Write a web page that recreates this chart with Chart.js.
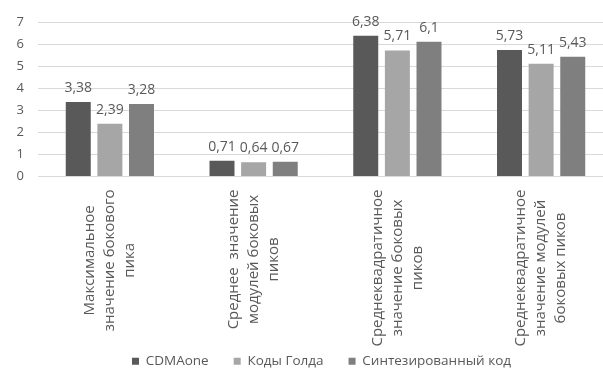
<!DOCTYPE html>
<html>
<head>
<meta charset="utf-8">
<script src="https://cdn.jsdelivr.net/npm/chart.js@4.4.0/dist/chart.umd.min.js"></script>
<style>
  html, body { margin: 0; padding: 0; background: #fff; overflow: hidden; }
  /* the original picture is cropped a little on the right */
  #wrap { width: 603px; height: 374px; overflow: hidden; }
</style>
</head>
<body>
<div id="wrap"><canvas id="myChart" width="613" height="374"></canvas></div>
<script>
// Chart data
const categories = [
    ['Максимальное', 'значение бокового', 'пика'],
    ['Среднее  значение', 'модулей боковых', 'пиков'],
    ['Среднеквадратичное', 'значение боковых', 'пиков'],
    ['Среднеквадратичное', 'значение модулей', 'боковых пиков']
];
const seriesNames = ['CDMAone', 'Коды Голда', 'Синтезированный код'];
const cdmaOne = [3.38, 0.71, 6.38, 5.73];
const goldCodes = [2.39, 0.64, 5.71, 5.11];
const synthCode = [3.28, 0.67, 6.1, 5.43];
const yTicks = [0, 1, 2, 3, 4, 5, 6, 7];

const colors = ['#595959', '#a6a6a6', '#7f7f7f'];
const textColor = '#595959';
const fontFamily = '"Open Sans", sans-serif';

// Value labels above bars, comma as decimal separator
const valueLabels = {
    id: 'valueLabels',
    afterDatasetsDraw(chart) {
        const ctx = chart.ctx;
        ctx.save();
        ctx.font = '14px ' + fontFamily;
        ctx.fillStyle = textColor;
        ctx.textAlign = 'center';
        ctx.textBaseline = 'alphabetic';
        chart.data.datasets.forEach((ds, i) => {
            const meta = chart.getDatasetMeta(i);
            meta.data.forEach((bar, j) => {
                const txt = String(ds.data[j]).replace('.', ',');
                ctx.fillText(txt, bar.x, bar.y - 10);
            });
        });
        ctx.restore();
    }
};

// Rotated multi-line category labels, lines centered on each other
const categoryLabels = {
    id: 'categoryLabels',
    afterDraw(chart) {
        const ctx = chart.ctx;
        const xScale = chart.scales.x;
        const top = chart.chartArea.bottom + 13;
        const lineH = 20;
        ctx.save();
        ctx.font = '15px ' + fontFamily;
        ctx.fillStyle = textColor;
        ctx.textAlign = 'center';
        ctx.textBaseline = 'middle';
        categories.forEach((lines, i) => {
            const x = xScale.getPixelForValue(i);
            const w = Math.max(...lines.map(l => ctx.measureText(l).width));
            ctx.save();
            ctx.translate(x, top + w / 2);
            ctx.rotate(-Math.PI / 2);
            lines.forEach((line, k) => {
                ctx.fillText(line, 0, (k - (lines.length - 1) / 2) * lineH);
            });
            ctx.restore();
        });
        ctx.restore();
    }
};

// nudge the legend a bit (the original sits slightly right and lower)
const legendShift = {
    id: 'legendShift',
    afterLayout(chart) {
        const lg = chart.legend;
        lg.left += 15; lg.right += 15;
        lg.top += 4; lg.bottom += 4;
    }
};

const makeSet = (label, data, color) => ({
    label: label,
    data: data,
    backgroundColor: color,
    borderWidth: 0,
    categoryPercentage: 0.66,
    barPercentage: 0.79
});

document.addEventListener('DOMContentLoaded', () => {
    const ctx = document.getElementById('myChart').getContext('2d');
    const myChart = new Chart(ctx, {
        type: 'bar',
        data: {
            labels: categories.map(c => c.join(' ')),
            datasets: [
                makeSet(seriesNames[0], cdmaOne, colors[0]),
                makeSet(seriesNames[1], goldCodes, colors[1]),
                makeSet(seriesNames[2], synthCode, colors[2])
            ]
        },
        options: {
            responsive: false,
            animation: false,
            layout: {
                padding: { top: 22, right: 0, left: 0, bottom: 0 }
            },
            plugins: {
                legend: {
                    position: 'bottom',
                    labels: {
                        boxWidth: 7,
                        boxHeight: 7,
                        padding: 25,
                        color: textColor,
                        font: { size: 13.5, family: fontFamily }
                    }
                },
                tooltip: { enabled: false }
            },
            scales: {
                x: {
                    grid: { display: false },
                    border: { display: true, color: '#d9d9d9' },
                    ticks: { display: false },
                    afterFit(scale) { scale.height = 149; }
                },
                y: {
                    min: 0,
                    max: 7,
                    afterBuildTicks(scale) { scale.ticks = yTicks.map(v => ({ value: v })); },
                    grid: { color: '#d9d9d9', drawTicks: false },
                    border: { display: false },
                    ticks: {
                        padding: 14,
                        color: textColor,
                        font: { size: 13, family: fontFamily }
                    },
                    afterFit(scale) { scale.width = 38; }
                }
            }
        },
        plugins: [valueLabels, categoryLabels, legendShift]
    });
});
</script>
</body>
</html>
